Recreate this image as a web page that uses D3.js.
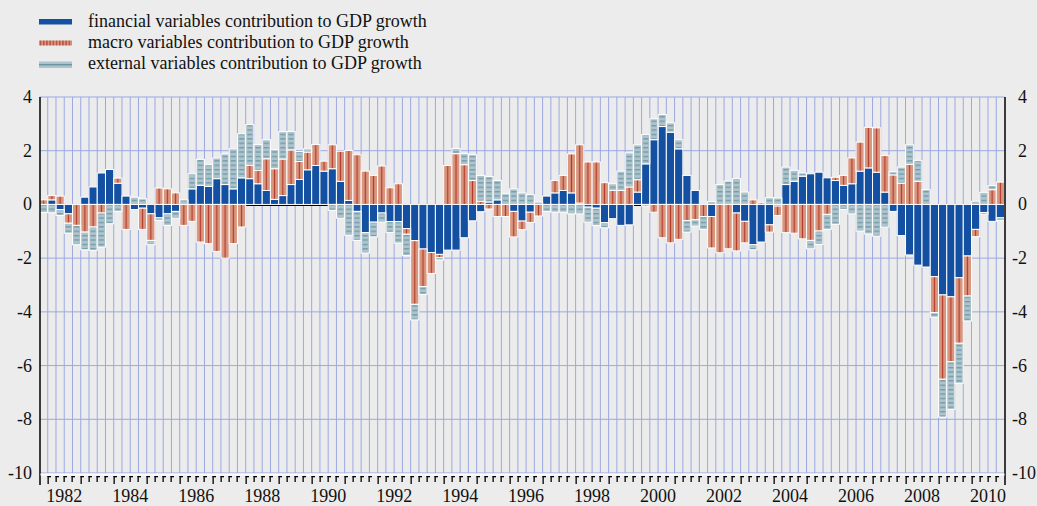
<!DOCTYPE html>
<html lang="en">
<head>
<meta charset="utf-8">
<title>Contributions to GDP growth</title>
<script src="https://cdn.jsdelivr.net/npm/d3@7/dist/d3.min.js"></script>
<style>
  body {margin: 0; background: #ececec;}
  svg {display: block; font-family: "Liberation Serif", "Times New Roman", serif;}
  .grid line {stroke: #9ba8e2; stroke-width: 1;}
  .bar {stroke: #ffffff; stroke-width: 1;}
  .lab {font-size: 18px; fill: #111;}
  .leg {font-size: 18px; fill: #111;}
</style>
</head>
<body>
<svg width="1037" height="506"></svg>
<script>
// first bar is 1981 Q4, one value per quarter
var firstYear = 1981, firstQuarter = 4;

var financial = [0, 0.17, -0.19, -0.35, 0, 0.27, 0.65, 1.17, 1.3, 0.79,
  0.31, -0.19, -0.14, -0.35, -0.5, -0.35, -0.26, 0, 0.58, 0.71,
  0.67, 0.96, 0.74, 0.58, 0.99, 0.96, 0.77, 0.52, 0.19, 0.33,
  0.74, 0.93, 1.29, 1.45, 1.24, 1.33, 0.86, 0.15, -0.26, -1.05,
  -0.66, -0.32, -0.64, -0.64, -0.9, -1.35, -1.66, -1.79, -1.86, -1.7,
  -1.7, -1.24, -0.61, -0.27, 0.09, 0.17, 0, -0.26, -0.62, -0.29,
  0, 0.31, 0.43, 0.52, 0.43, 0.05, -0.1, -0.14, -0.68, -0.53,
  -0.78, -0.76, 0.46, 1.51, 2.41, 2.9, 2.69, 2.07, 1.08, 0.52,
  0, -0.45, 0, 0, -0.32, -0.63, -1.5, -1.4, -0.76, -0.06,
  0.74, 0.86, 1.05, 1.14, 1.2, 0.99, 0.89, 0.71, 0.77, 1.24,
  1.36, 1.2, 0.46, -0.26, -1.16, -1.88, -2.26, -2.33, -2.69, -3.37,
  -3.44, -2.73, -1.92, -0.93, -0.3, -0.63, -0.5];

var macro = [0.17, 0.16, 0.31, -0.35, -0.78, -1.03, -0.84, -0.32, 0, 0.19,
  -0.93, 0, -0.79, -0.99, 0.61, 0.58, 0.43, -0.78, -0.63, -1.4,
  -1.46, -1.75, -2.0, -1.46, -0.84, 0.5, 0.5, 1.18, 1.14, 1.36,
  1.29, 0.67, 0.66, 0.78, 0.37, 0.89, 1.12, 1.86, 1.85, 1.24,
  1.08, 1.43, 0.62, 0.77, -0.21, -2.37, -1.4, -0.78, -0.12, 1.45,
  1.89, 1.48, 0.89, 0.12, -0.17, -0.45, -0.45, -0.95, -0.32, -0.38,
  -0.43, 0, 0.46, 0.56, 1.45, 2.17, 1.58, 1.58, 0.81, 0.52,
  0.52, 0.65, 0.46, -0.06, -0.29, -1.24, -1.43, -1.3, -0.6, -0.57,
  -0.45, -1.17, -1.8, -1.65, -1.41, -0.8, 0.17, 0.06, -0.27, -0.35,
  -1.05, -1.07, -1.28, -1.34, -0.99, -0.37, 0.12, 0.37, 0.96, 1.08,
  1.51, 1.65, 1.36, 1.1, 0.79, 1.49, 0.86, 0, -1.34, -3.14,
  -2.42, -2.44, -1.49, -0.27, -0.06, 0.55, 0.83];

var external = [-0.3, -0.31, -0.22, -0.37, -0.72, -0.66, -0.87, -1.27, -0.72, -0.26,
  0, 0.27, 0.21, -0.16, -0.1, -0.43, -0.25, 0.17, 0.56, 0.97,
  0.81, 0.77, 1.14, 1.49, 1.64, 1.51, 0.96, 0.71, 0.71, 1.02,
  0.69, 0.37, 0.12, 0, 0, -0.22, -0.51, -1.15, -1.08, -0.76,
  -0.55, -0.34, -0.4, -0.8, -0.79, -0.58, -0.29, 0, -0.09, 0,
  0.19, 0.41, 0.96, 0.96, 0.95, 0.72, 0.4, 0.58, 0.43, 0.36,
  0.09, -0.26, -0.29, -0.29, -0.35, -0.35, -0.56, -0.65, -0.19, 0.25,
  0.72, 1.27, 1.3, 1.09, 0.78, 0.45, 0.35, 0.34, -0.43, -0.24,
  -0.48, 0.11, 0.74, 0.87, 0.96, 0.46, -0.19, 0, 0.25, 0.24,
  0.65, 0.41, 0.12, -0.31, -0.5, -0.56, -0.74, -0.19, -0.35, -0.99,
  -1.1, -1.18, -0.84, 0.12, 0.6, 0.73, 0.78, 0.55, -0.17, -1.41,
  -1.77, -1.49, -0.93, 0.12, 0.45, 0.15, -0.1];

var seriesKeys = ["financial", "macro", "external"];
var seriesNames = ["financial variables contribution to GDP growth",
  "macro variables contribution to GDP growth",
  "external variables contribution to GDP growth"];
var yearLabels = [1982, 1984, 1986, 1988, 1990, 1992, 1994, 1996, 1998, 2000, 2002, 2004, 2006, 2008, 2010];
var yTicks = [4, 2, 0, -2, -4, -6, -8, -10];

var quarters = financial.map(function (d, i) {
  var q = firstQuarter - 1 + i;
  return (firstYear + Math.floor(q / 4)) + "Q" + (q % 4 + 1);
});

var rows = quarters.map(function (q, i) {
  return {q: q, financial: financial[i], macro: macro[i], external: external[i]};
});

var svg = d3.select("svg");

var x = d3.scaleBand().domain(quarters).range([39.5, 1004.5]).padding(0);
var y = d3.scaleLinear().domain([-10, 4]).range([473, 97]);
var bw = x.bandwidth();

// motifs des barres
var defs = svg.append("defs");
var pm = defs.append("pattern").attr("id", "pMacro")
  .attr("patternUnits", "userSpaceOnUse")
  .attr("x", x.range()[0]).attr("width", bw).attr("height", 10);
pm.append("rect").attr("width", bw).attr("height", 10).attr("fill", "#d9977f");
pm.append("rect").attr("x", bw / 2 - 0.6).attr("width", 1.2).attr("height", 10).attr("fill", "#b1392a");

var pe = defs.append("pattern").attr("id", "pExt")
  .attr("patternUnits", "userSpaceOnUse")
  .attr("x", x.range()[0]).attr("width", bw).attr("height", 4.4);
pe.append("rect").attr("width", bw).attr("height", 4.4).attr("fill", "#aec3cc");
pe.append("rect").attr("x", 1.5).attr("y", 2).attr("width", bw - 3).attr("height", 1).attr("fill", "#5b8e9a");

var pml = defs.append("pattern").attr("id", "pMacroLeg")
  .attr("patternUnits", "userSpaceOnUse").attr("x", 39).attr("width", 3.2).attr("height", 10);
pml.append("rect").attr("width", 3.2).attr("height", 10).attr("fill", "#d9977f");
pml.append("rect").attr("x", 1).attr("width", 1.1).attr("height", 10).attr("fill", "#b1392a");

var fills = {financial: "#1450a1", macro: "url(#pMacro)", external: "url(#pExt)"};

// grille
var grid = svg.append("g").classed("grid", true);
grid.selectAll("line.v")
  .data(quarters.slice(1))
  .enter().append("line")
    .attr("x1", function (d) { return x(d); })
    .attr("x2", function (d) { return x(d); })
    .attr("y1", y(4)).attr("y2", y(-10));
grid.selectAll("line.h")
  .data(yTicks)
  .enter().append("line")
    .attr("x1", x.range()[0]).attr("x2", x.range()[1])
    .attr("y1", function (d) { return y(d); })
    .attr("y2", function (d) { return y(d); });

svg.append("line")
  .attr("x1", x.range()[0]).attr("x2", x.range()[1])
  .attr("y1", y(0) + 1).attr("y2", y(0) + 1)
  .attr("stroke", "#000").attr("stroke-width", 1.2);

// barres empilees
var stack = d3.stack().keys(seriesKeys).offset(d3.stackOffsetDiverging);
var layers = stack(rows);

svg.selectAll("g.layer")
  .data(layers)
  .enter().append("g")
    .classed("layer", true)
    .attr("fill", function (d) { return fills[d.key]; })
  .selectAll("rect")
  .data(function (d) { return d.filter(function (p) { return p[1] !== p[0]; }); })
  .enter().append("rect")
    .classed("bar", true)
    .attr("x", function (d) { return x(d.data.q); })
    .attr("width", bw)
    .attr("y", function (d) { return y(d[1]); })
    .attr("height", function (d) { return y(d[0]) - y(d[1]); });

// axes
svg.append("line").attr("x1", 40).attr("x2", 40).attr("y1", y(4)).attr("y2", 485)
  .attr("stroke", "#000").attr("stroke-width", 1.5);
svg.append("line").attr("x1", 1005).attr("x2", 1005).attr("y1", y(4)).attr("y2", 485)
  .attr("stroke", "#000").attr("stroke-width", 1.5);
svg.append("line").attr("x1", 40.5).attr("x2", 1004.5).attr("y1", 474.5).attr("y2", 474.5)
  .attr("stroke", "#fff").attr("stroke-width", 2);

var xt = svg.selectAll("g.xt")
  .data(quarters.slice(1))
  .enter().append("g")
    .attr("transform", function (d) { return "translate(" + Math.round(x(d)) + ",0)"; });
xt.append("rect")
  .attr("x", -0.5).attr("y", 476).attr("width", 1.3)
  .attr("height", function (d) { return /Q1$/.test(d) ? 8 : 6; })
  .attr("fill", "#000");
xt.append("rect")
  .attr("x", -0.5).attr("y", 476).attr("width", 3.5).attr("height", 1.3)
  .attr("fill", "#000");

svg.selectAll("text.yl")
  .data(yTicks)
  .enter().append("text")
    .classed("lab", true)
    .attr("x", 32).attr("y", function (d) { return y(d) + 6; })
    .attr("text-anchor", "end")
    .text(function (d) { return d; });

svg.selectAll("text.yr")
  .data(yTicks)
  .enter().append("text")
    .classed("lab", true)
    .attr("x", function (d) { return d < 0 ? 1012 : 1018; })
    .attr("y", function (d) { return y(d) + 6; })
    .text(function (d) { return d; });

svg.selectAll("text.xl")
  .data(yearLabels)
  .enter().append("text")
    .classed("lab", true)
    .attr("x", function (d) { return x(d + "Q3"); })
    .attr("y", 502)
    .attr("text-anchor", "middle")
    .text(function (d) { return d; });

// legende
var leg = svg.append("g");
var legFills = ["#1450a1", "url(#pMacroLeg)", "#aec3cc"];
var legSw = [{y: 19, h: 5.5}, {y: 40.5, h: 5}, {y: 61.5, h: 6.5}];
seriesNames.forEach(function (name, i) {
  leg.append("rect").attr("x", 39).attr("y", legSw[i].y)
    .attr("width", 33).attr("height", legSw[i].h).attr("fill", legFills[i]);
  if (i === 2) {
    leg.append("rect").attr("x", 39).attr("y", 64.2).attr("width", 33).attr("height", 1.2).attr("fill", "#5b8e9a");
  }
  leg.append("text").classed("leg", true)
    .attr("x", 88).attr("y", 26.5 + i * 21.3)
    .text(name);
});
</script>
</body>
</html>
